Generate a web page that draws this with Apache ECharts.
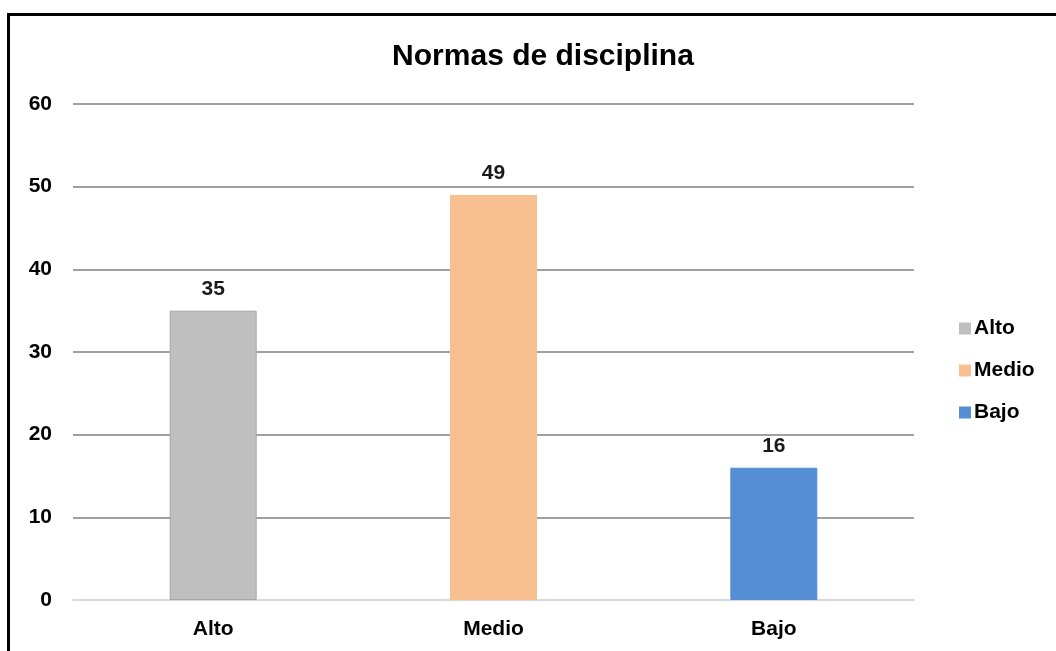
<!DOCTYPE html>
<html>
<head>
<meta charset="utf-8">
<script src="https://cdn.jsdelivr.net/npm/echarts@6/dist/echarts.min.js"></script>
<style>
html,body{margin:0;padding:0;background:#fff;}
#frame{position:absolute;left:7px;top:13px;width:1049px;height:638px;border-left:3px solid #000;border-top:3px solid #000;}
#chart{position:absolute;left:0;top:0;width:1056px;height:651px;}
</style>
</head>
<body>
<div id="frame"></div>
<div id="chart"></div>
<script>
const categories = ['Alto', 'Medio', 'Bajo'];
const values = [35, 49, 16];
const colors = ['#bfbfbf', '#f8c090', '#558ed5'];
const yTicks = { min: 0, max: 60, interval: 10 };

const FONT = 'Liberation Sans, Arial, sans-serif';
const chart = echarts.init(document.getElementById('chart'));
const series = categories.map((name, i) => ({
  name: name,
  type: 'bar',
  stack: 'all',
  barWidth: 87,
  data: categories.map((c, j) => j === i ? values[i] : '-'),
  itemStyle: { color: colors[i], borderColor: i === 0 ? '#a6a6a6' : colors[i], borderWidth: 1 },
  label: {
    show: true, position: 'top', distance: 11,
    fontFamily: FONT, fontWeight: 'bold', fontSize: 21, color: '#1a1a1a'
  }
}));

chart.setOption({
  animation: false,
  backgroundColor: 'transparent',
  title: {
    text: 'Normas de disciplina', left: 538, top: 37, textAlign: 'center',
    textStyle: { fontFamily: FONT, fontWeight: 'bold', fontSize: 30, color: '#000' }
  },
  legend: {
    orient: 'vertical', left: 954, top: 313, itemWidth: 12, itemHeight: 12, itemGap: 21,
    icon: 'rect',
    itemStyle: { borderWidth: 0 },
    textStyle: { fontFamily: FONT, fontWeight: 'bold', fontSize: 21, color: '#000', padding: [0,0,0,-2] },
    data: categories
  },
  grid: { left: 73, right: 142, top: 104, bottom: 51, containLabel: false },
  xAxis: {
    type: 'category', data: categories,
    axisLine: { lineStyle: { color: '#d9d9d9', width: 2 } },
    axisTick: { show: false },
    axisLabel: { margin: 19, fontFamily: FONT, fontWeight: 'bold', fontSize: 21, color: '#000' }
  },
  yAxis: {
    type: 'value', min: yTicks.min, max: yTicks.max, interval: yTicks.interval,
    axisLine: { show: false }, axisTick: { show: false },
    splitLine: { lineStyle: { color: '#a0a0a0', width: 2 } },
    axisLabel: { margin: 21, fontFamily: FONT, fontWeight: 'bold', fontSize: 21, color: '#000' }
  },
  series: series
});
</script>
</body>
</html>
